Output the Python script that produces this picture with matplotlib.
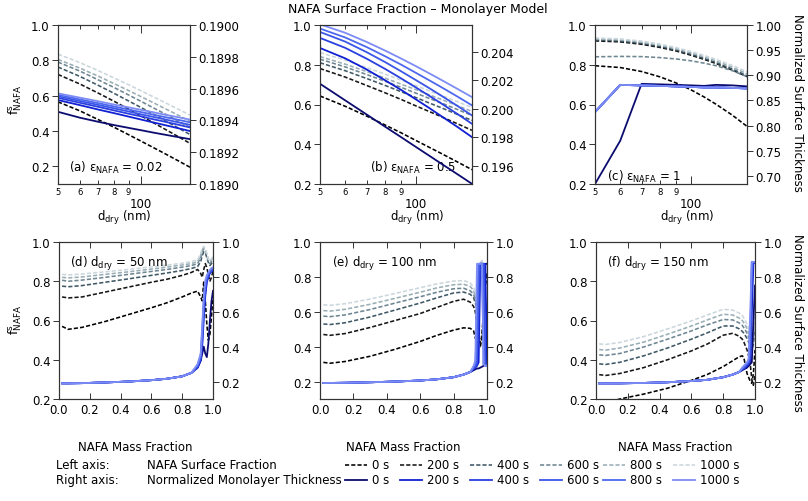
import matplotlib
matplotlib.use('Agg')
import matplotlib.pyplot as plt
from matplotlib.ticker import FixedLocator, FixedFormatter, FormatStrFormatter, MultipleLocator

plt.rcParams['font.family'] = ['DejaVu Sans']
plt.rcParams['font.size'] = 8.5
plt.rcParams['mathtext.default'] = 'regular'

times = ['0 s', '200 s', '400 s', '600 s', '800 s', '1000 s']
dash_colors = ['#000000', '#161616', '#3f5866', '#6e8692', '#9aaeb6', '#cbd7dc']
solid_colors = ['#0c0c70', '#1020d2', '#2a3fe0', '#3a55e8', '#4d68ee', '#7c8cf4']

# ---------------- top row: vs dry diameter (nm) ----------------
d_dry = [50, 60, 70, 80, 90, 100, 110, 120, 135, 150]

surf_a = [
    [0.565, 0.514, 0.464, 0.420, 0.379, 0.342, 0.308, 0.277, 0.234, 0.195],
    [0.72, 0.666, 0.614, 0.567, 0.524, 0.485, 0.449, 0.416, 0.371, 0.33],
    [0.762, 0.709, 0.658, 0.612, 0.570, 0.532, 0.497, 0.464, 0.420, 0.38],
    [0.79, 0.739, 0.689, 0.645, 0.604, 0.567, 0.533, 0.502, 0.459, 0.42],
    [0.805, 0.756, 0.710, 0.667, 0.629, 0.594, 0.562, 0.532, 0.492, 0.455],
    [0.835, 0.787, 0.741, 0.699, 0.662, 0.627, 0.595, 0.566, 0.526, 0.49],
]
thick_a = [
    [0.189454, 0.189417, 0.189391, 0.189370, 0.189353, 0.189338, 0.189324, 0.189312, 0.189296, 0.189282],
    [0.189528, 0.189496, 0.189468, 0.189445, 0.189424, 0.189405, 0.189388, 0.189373, 0.189352, 0.189333],
    [0.189542, 0.189511, 0.189485, 0.189462, 0.189442, 0.189425, 0.189408, 0.189394, 0.189374, 0.189356],
    [0.189552, 0.189522, 0.189497, 0.189475, 0.189456, 0.189438, 0.189423, 0.189409, 0.189389, 0.189372],
    [0.189561, 0.189532, 0.189508, 0.189487, 0.189468, 0.189452, 0.189437, 0.189423, 0.189405, 0.189388],
    [0.18957, 0.189543, 0.189520, 0.189499, 0.189482, 0.189466, 0.189452, 0.189438, 0.189421, 0.189405],
]

surf_b = [
    [0.643, 0.591, 0.542, 0.497, 0.457, 0.419, 0.385, 0.354, 0.311, 0.272],
    [0.781, 0.738, 0.696, 0.659, 0.625, 0.593, 0.565, 0.539, 0.503, 0.47],
    [0.81, 0.770, 0.731, 0.696, 0.664, 0.635, 0.608, 0.584, 0.550, 0.52],
    [0.828, 0.789, 0.751, 0.717, 0.686, 0.657, 0.631, 0.608, 0.575, 0.545],
    [0.841, 0.803, 0.766, 0.733, 0.702, 0.675, 0.649, 0.626, 0.594, 0.565],
    [0.861, 0.823, 0.786, 0.753, 0.722, 0.695, 0.669, 0.646, 0.614, 0.585],
]
thick_b = [
    [0.20176, 0.20059, 0.19960, 0.19874, 0.19799, 0.19731, 0.19670, 0.19614, 0.19539, 0.19471],
    [0.20428, 0.20355, 0.20277, 0.20201, 0.20132, 0.20066, 0.20006, 0.19949, 0.19872, 0.198],
    [0.20499, 0.20429, 0.20353, 0.20281, 0.20213, 0.20150, 0.20092, 0.20038, 0.19963, 0.19894],
    [0.20541, 0.20473, 0.20399, 0.20329, 0.20263, 0.20202, 0.20146, 0.20093, 0.20020, 0.19953],
    [0.20565, 0.20502, 0.20435, 0.20370, 0.20310, 0.20253, 0.20201, 0.20153, 0.20086, 0.20024],
    [0.20595, 0.20535, 0.20471, 0.20410, 0.20353, 0.20300, 0.20250, 0.20204, 0.20140, 0.20082],
]

surf_c = [
    [0.795, 0.786, 0.766, 0.739, 0.708, 0.674, 0.638, 0.601, 0.546, 0.49],
    [0.92, 0.915, 0.903, 0.887, 0.869, 0.848, 0.827, 0.806, 0.773, 0.74],
    [0.925, 0.920, 0.908, 0.892, 0.874, 0.853, 0.832, 0.811, 0.778, 0.745],
    [0.84, 0.842, 0.841, 0.836, 0.829, 0.82, 0.808, 0.795, 0.77, 0.74],
    [0.93, 0.925, 0.914, 0.898, 0.880, 0.860, 0.840, 0.819, 0.787, 0.755],
    [0.935, 0.930, 0.919, 0.904, 0.886, 0.867, 0.847, 0.827, 0.796, 0.765],
]
thick_c = [
    [0.684, 0.77, 0.883, 0.882, 0.881, 0.88, 0.879, 0.881, 0.88, 0.878],
    [0.827, 0.881, 0.88, 0.879, 0.878, 0.877, 0.876, 0.876, 0.875, 0.874],
    [0.827, 0.881, 0.88, 0.879, 0.878, 0.877, 0.876, 0.876, 0.875, 0.874],
    [0.827, 0.881, 0.88, 0.879, 0.878, 0.877, 0.876, 0.876, 0.875, 0.874],
    [0.827, 0.881, 0.88, 0.879, 0.878, 0.877, 0.876, 0.876, 0.875, 0.874],
    [0.827, 0.881, 0.88, 0.879, 0.878, 0.877, 0.876, 0.876, 0.875, 0.874],
]

# ---------------- bottom row: vs NAFA mass fraction ----------------
x_mass = [0.02, 0.06, 0.15, 0.3, 0.45, 0.6, 0.7, 0.8, 0.86, 0.9,
          0.92, 0.93, 0.94, 0.95, 0.96, 0.97, 0.98, 0.99, 1.0]

surf_d = [
    [0.57, 0.555, 0.565, 0.595, 0.63, 0.665, 0.69, 0.72, 0.74, 0.75, 0.72, 0.70, 0.80, 0.70, 0.58, 0.50, 0.53, 0.62, 0.72],
    [0.72, 0.715, 0.72, 0.745, 0.77, 0.795, 0.81, 0.83, 0.845, 0.86, 0.84, 0.82, 0.86, 0.89, 0.87, 0.83, 0.80, 0.82, 0.85],
    [0.775, 0.772, 0.778, 0.795, 0.812, 0.83, 0.842, 0.855, 0.865, 0.875, 0.9, 0.93, 0.95, 0.945, 0.92, 0.895, 0.88, 0.89, 0.90],
    [0.805, 0.80, 0.806, 0.82, 0.835, 0.85, 0.86, 0.872, 0.88, 0.89, 0.92, 0.95, 0.965, 0.955, 0.93, 0.905, 0.89, 0.90, 0.91],
    [0.82, 0.817, 0.822, 0.835, 0.848, 0.862, 0.872, 0.883, 0.89, 0.90, 0.93, 0.96, 0.972, 0.962, 0.935, 0.91, 0.90, 0.91, 0.92],
    [0.835, 0.832, 0.837, 0.848, 0.86, 0.873, 0.882, 0.892, 0.90, 0.91, 0.94, 0.968, 0.978, 0.965, 0.94, 0.915, 0.905, 0.915, 0.925],
]
thick_d = [
    [0.19, 0.19, 0.191, 0.195, 0.2, 0.208, 0.216, 0.23, 0.25, 0.28, 0.32, 0.36, 0.40, 0.36, 0.34, 0.42, 0.55, 0.66, 0.72],
    [0.19, 0.19, 0.191, 0.195, 0.2, 0.208, 0.216, 0.23, 0.25, 0.28, 0.32, 0.40, 0.56, 0.69, 0.77, 0.80, 0.82, 0.83, 0.835],
    [0.19, 0.19, 0.191, 0.195, 0.2, 0.208, 0.216, 0.23, 0.25, 0.285, 0.33, 0.43, 0.60, 0.72, 0.78, 0.81, 0.825, 0.835, 0.84],
    [0.19, 0.19, 0.191, 0.195, 0.2, 0.208, 0.216, 0.23, 0.25, 0.29, 0.34, 0.46, 0.63, 0.74, 0.79, 0.815, 0.83, 0.84, 0.845],
    [0.19, 0.19, 0.191, 0.195, 0.2, 0.208, 0.216, 0.23, 0.25, 0.295, 0.35, 0.49, 0.66, 0.76, 0.80, 0.82, 0.835, 0.845, 0.85],
    [0.19, 0.19, 0.191, 0.195, 0.2, 0.208, 0.216, 0.23, 0.25, 0.30, 0.36, 0.52, 0.69, 0.78, 0.81, 0.825, 0.84, 0.85, 0.855],
]

surf_e = [
    [0.31, 0.305, 0.315, 0.345, 0.385, 0.43, 0.465, 0.495, 0.508, 0.505, 0.49, 0.45, 0.42, 0.40, 0.40, 0.45, 0.60, 0.75, 0.80],
    [0.47, 0.465, 0.475, 0.51, 0.55, 0.59, 0.625, 0.66, 0.672, 0.655, 0.63, 0.60, 0.52, 0.45, 0.42, 0.47, 0.62, 0.78, 0.82],
    [0.53, 0.527, 0.537, 0.57, 0.61, 0.65, 0.68, 0.708, 0.713, 0.70, 0.68, 0.65, 0.62, 0.70, 0.82, 0.86, 0.70, 0.60, 0.62],
    [0.575, 0.572, 0.582, 0.613, 0.65, 0.686, 0.712, 0.732, 0.735, 0.72, 0.70, 0.67, 0.64, 0.72, 0.84, 0.88, 0.72, 0.62, 0.64],
    [0.607, 0.604, 0.614, 0.643, 0.677, 0.712, 0.737, 0.755, 0.758, 0.745, 0.72, 0.69, 0.66, 0.74, 0.86, 0.89, 0.74, 0.64, 0.66],
    [0.64, 0.637, 0.646, 0.673, 0.705, 0.738, 0.76, 0.776, 0.779, 0.765, 0.74, 0.71, 0.68, 0.76, 0.88, 0.90, 0.76, 0.66, 0.68],
]
thick_e = [
    [0.192, 0.192, 0.193, 0.196, 0.2, 0.206, 0.213, 0.225, 0.24, 0.255, 0.265, 0.27, 0.275, 0.275, 0.28, 0.285, 0.29, 0.875, 0.875],
    [0.192, 0.192, 0.193, 0.196, 0.2, 0.206, 0.213, 0.225, 0.24, 0.255, 0.27, 0.28, 0.29, 0.31, 0.875, 0.875, 0.875, 0.875, 0.29],
    [0.192, 0.192, 0.193, 0.196, 0.2, 0.206, 0.213, 0.225, 0.24, 0.255, 0.275, 0.285, 0.30, 0.60, 0.875, 0.875, 0.875, 0.30, 0.29],
    [0.192, 0.192, 0.193, 0.196, 0.2, 0.206, 0.213, 0.225, 0.24, 0.255, 0.28, 0.29, 0.32, 0.875, 0.875, 0.875, 0.875, 0.30, 0.29],
    [0.192, 0.192, 0.193, 0.196, 0.2, 0.206, 0.213, 0.225, 0.24, 0.255, 0.285, 0.30, 0.50, 0.875, 0.875, 0.875, 0.30, 0.29, 0.29],
    [0.192, 0.192, 0.193, 0.196, 0.2, 0.206, 0.213, 0.225, 0.24, 0.255, 0.29, 0.32, 0.875, 0.875, 0.875, 0.875, 0.30, 0.29, 0.29],
]

surf_f = [
    [0.17, 0.18, 0.20, 0.225, 0.255, 0.295, 0.325, 0.365, 0.395, 0.415, 0.42, 0.41, 0.37, 0.33, 0.31, 0.29, 0.28, 0.33, 0.45],
    [0.324, 0.32, 0.33, 0.36, 0.40, 0.445, 0.48, 0.525, 0.535, 0.52, 0.505, 0.49, 0.47, 0.45, 0.42, 0.38, 0.30, 0.27, 0.32],
    [0.379, 0.376, 0.387, 0.42, 0.46, 0.505, 0.537, 0.572, 0.572, 0.558, 0.545, 0.535, 0.522, 0.508, 0.49, 0.47, 0.45, 0.48, 0.58],
    [0.425, 0.422, 0.432, 0.465, 0.505, 0.547, 0.578, 0.605, 0.603, 0.588, 0.575, 0.563, 0.55, 0.535, 0.515, 0.495, 0.475, 0.50, 0.60],
    [0.452, 0.449, 0.46, 0.49, 0.53, 0.572, 0.603, 0.632, 0.628, 0.613, 0.6, 0.588, 0.575, 0.558, 0.538, 0.518, 0.50, 0.52, 0.62],
    [0.481, 0.478, 0.488, 0.518, 0.557, 0.598, 0.628, 0.657, 0.653, 0.638, 0.625, 0.612, 0.598, 0.58, 0.56, 0.54, 0.52, 0.54, 0.64],
]
thick_f = [
    [0.19, 0.19, 0.19, 0.192, 0.196, 0.203, 0.21, 0.225, 0.24, 0.255, 0.265, 0.27, 0.275, 0.28, 0.29, 0.30, 0.31, 0.55, 0.75],
    [0.19, 0.19, 0.19, 0.192, 0.196, 0.203, 0.21, 0.225, 0.24, 0.255, 0.27, 0.275, 0.28, 0.29, 0.30, 0.32, 0.60, 0.88, 0.88],
    [0.19, 0.19, 0.19, 0.192, 0.196, 0.203, 0.21, 0.225, 0.24, 0.255, 0.27, 0.275, 0.285, 0.295, 0.305, 0.33, 0.80, 0.885, 0.885],
    [0.19, 0.19, 0.19, 0.192, 0.196, 0.203, 0.21, 0.225, 0.24, 0.255, 0.275, 0.28, 0.29, 0.30, 0.31, 0.36, 0.885, 0.885, 0.885],
    [0.19, 0.19, 0.19, 0.192, 0.196, 0.203, 0.21, 0.225, 0.24, 0.255, 0.275, 0.285, 0.295, 0.305, 0.32, 0.45, 0.885, 0.885, 0.885],
    [0.19, 0.19, 0.19, 0.192, 0.196, 0.203, 0.21, 0.225, 0.24, 0.255, 0.28, 0.29, 0.30, 0.31, 0.33, 0.60, 0.885, 0.885, 0.885],
]

W, H = 808, 502
fig = plt.figure(figsize=(W / 100, H / 100), dpi=100)

FRAME = '#333333'
DASH = (2.6, 1.3)


def box(l, t, r, b):
    # pixel box -> figure fraction rect
    return [l / W, 1 - b / H, (r - l) / W, (b - t) / H]


def style(ax, ax2):
    for a in (ax, ax2):
        for s in a.spines.values():
            s.set_color(FRAME)
            s.set_linewidth(0.8)
    ax.tick_params(axis='y', direction='out', length=4, width=0.7, color=FRAME, pad=2)
    ax2.tick_params(axis='y', direction='out', length=4, width=0.7, color=FRAME, pad=2)
    ax.tick_params(axis='x', which='both', direction='in', top=True, width=0.7, color=FRAME)


def draw(rect, xs, surf, thick, ylim_l, ylim_r):
    ax = fig.add_axes(rect)
    ax2 = ax.twinx()
    for k in range(6):
        ax.plot(xs, surf[k], color=dash_colors[k], lw=1.15, dashes=DASH)
    for k in range(6):
        ax2.plot(xs, thick[k], color=solid_colors[k], lw=1.3)
    ax.set_ylim(*ylim_l)
    ax2.set_ylim(*ylim_r)
    ax.yaxis.set_major_locator(MultipleLocator(0.2))
    ax.yaxis.set_major_formatter(FormatStrFormatter('%.1f'))
    style(ax, ax2)
    return ax, ax2


def top_panel(rect, surf, thick, ylim_l, ylim_r, rstep, rfmt, label, lx, ly):
    ax, ax2 = draw(rect, d_dry, surf, thick, ylim_l, ylim_r)
    ax.set_xscale('log')
    ax.set_xlim(50, 150)
    ax.xaxis.set_major_locator(FixedLocator([100]))
    ax.xaxis.set_major_formatter(FixedFormatter(['100']))
    ax.xaxis.set_minor_locator(FixedLocator([50, 60, 70, 80, 90]))
    ax.xaxis.set_minor_formatter(FixedFormatter(['5', '6', '7', '8', '9']))
    ax.tick_params(axis='x', which='major', length=6, labelsize=8.5, pad=9)
    ax.tick_params(axis='x', which='minor', length=3, labelsize=6, pad=2)
    ax2.yaxis.set_major_locator(MultipleLocator(rstep))
    ax2.yaxis.set_major_formatter(FormatStrFormatter(rfmt))
    ax.text(lx, ly, label, transform=ax.transAxes, va='center', ha='left', fontsize=8.5)
    return ax, ax2


def bottom_panel(rect, surf, thick, ylim_l, label):
    ax, ax2 = draw(rect, x_mass, surf, thick, ylim_l, (0.1, 1.0))
    ax.set_xlim(0, 1)
    ax.xaxis.set_major_locator(MultipleLocator(0.2))
    ax.xaxis.set_major_formatter(FormatStrFormatter('%.1f'))
    ax.tick_params(axis='x', which='major', length=4, pad=3)
    ax2.yaxis.set_major_locator(MultipleLocator(0.2))
    ax2.yaxis.set_major_formatter(FormatStrFormatter('%.1f'))
    ax.text(0.07, 0.866, label, transform=ax.transAxes, va='center', ha='left', fontsize=8.5)
    return ax, ax2


top_panel(box(58, 26, 190, 185), surf_a, thick_a, (0.1, 1.0), (0.189, 0.19), 0.0002, '%.4f',
          '(a) ε$_{NAFA}$ = 0.02', 0.08, 0.107)
top_panel(box(320, 26, 472, 185), surf_b, thick_b, (0.2, 1.0), (0.1947, 0.2059), 0.002, '%.3f',
          '(b) ε$_{NAFA}$ = 0.5', 0.33, 0.11)
top_panel(box(595, 26, 747, 185), surf_c, thick_c, (0.2, 1.0), (0.684, 1.0), 0.05, '%.2f',
          '(c) ε$_{NAFA}$ = 1', 0.08, 0.05)

bottom_panel(box(59, 243, 213, 400), surf_d, thick_d, (0.2, 1.0), '(d) d$_{dry}$ = 50 nm')
bottom_panel(box(320, 243, 487, 400), surf_e, thick_e, (0.1, 1.0), '(e) d$_{dry}$ = 100 nm')
bottom_panel(box(596, 243, 755, 400), surf_f, thick_f, (0.2, 1.0), '(f) d$_{dry}$ = 150 nm')


def ftext(x, y, s, **kw):
    fig.text(x / W, 1 - y / H, s, **kw)


ftext(418, 9, 'NAFA Surface Fraction – Monolayer Model', ha='center', va='center', fontsize=9)
for yy in (100, 320):
    ftext(15, yy, 'f$^{s}_{NAFA}$', rotation=90, ha='center', va='center', fontsize=9)
    ftext(798, yy + 3, 'Normalized Surface Thickness', rotation=270, ha='center', va='center', fontsize=8.5)
for xx in (124, 417, 687):
    ftext(xx, 218, 'd$_{dry}$ (nm)', ha='center', va='center', fontsize=8.5)
for xx in (135, 403, 675):
    ftext(xx, 448, 'NAFA Mass Fraction', ha='center', va='center', fontsize=8.5)

# legend block
row_y = [466, 481]
ftext(56, row_y[0], 'Left axis:', ha='left', va='center', fontsize=8.5)
ftext(56, row_y[1], 'Right axis:', ha='left', va='center', fontsize=8.5)
ftext(147, row_y[0], 'NAFA Surface Fraction', ha='left', va='center', fontsize=8.5)
ftext(147, row_y[1], 'Normalized Monolayer Thickness', ha='left', va='center', fontsize=8.5)

lax = fig.add_axes([0, 0, 1, 1])
lax.set_xlim(0, W)
lax.set_ylim(H, 0)
lax.axis('off')
key_x = [345, 400, 470, 540, 603, 673]
for k in range(6):
    x0 = key_x[k]
    lax.plot([x0, x0 + 22], [row_y[0], row_y[0]], color=dash_colors[k], lw=1.15, dashes=DASH)
    lax.plot([x0, x0 + 22], [row_y[1], row_y[1]], color=solid_colors[k], lw=1.3)
    lax.text(x0 + 27, row_y[0], times[k], ha='left', va='center', fontsize=8.5)
    lax.text(x0 + 27, row_y[1], times[k], ha='left', va='center', fontsize=8.5)

fig.savefig('out.png', dpi=100)
